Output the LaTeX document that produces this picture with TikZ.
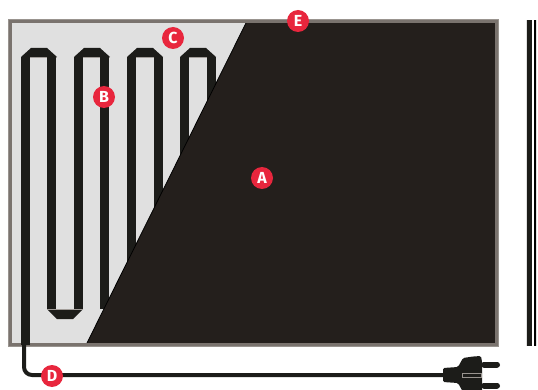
\documentclass[tikz,border=0pt]{standalone}
\usepackage{fontspec}
\setsansfont{Fira Sans}
\usepackage{xcolor}
\usepackage{tikz}
\usetikzlibrary{positioning}
\definecolor{framegray}{rgb}{0.48, 0.45, 0.43}
\definecolor{frameedge}{rgb}{0.60, 0.58, 0.56}
\definecolor{panelgray}{rgb}{0.88, 0.88, 0.88}
\definecolor{coverdark}{rgb}{0.14, 0.12, 0.11}
\definecolor{wireblack}{rgb}{0.11, 0.11, 0.10}
\definecolor{markerred}{rgb}{0.91, 0.15, 0.24}

\begin{document}
\begin{tikzpicture}[
    x=1pt, y=-1pt,
    every node/.style={font=\fontsize{16}{16}\selectfont\sffamily\bfseries, align=center},
    marker/.style={circle, fill=markerred, text=white, inner sep=0pt, minimum size=22pt},
    leg/.style={fill=wireblack, draw=none},
    seam/.style={draw=framegray!70, line width=0.6pt},
    cable/.style={draw=wireblack, line width=4pt, line cap=round}
]
\useasboundingbox (0,0) rectangle (538,390);

% ========== PANEL ==========
\fill[panelgray] (12,23) rectangle (496,343);

% ========== HEATING WIRE ==========
% upper bends and legs
\foreach \xa in {21,74,127,180} {
    \fill[leg] (\xa,57) -- ++(10,-9) -- ++(16,0) -- ++(10,9) -- cycle;
    \draw[seam] (\xa,57) -- ++(36,0);
}
\foreach \xa in {47,74,100,127,154,180,207} {
    \fill[leg] (\xa,57) rectangle ++(9,252);
}
\fill[leg] (21,57) rectangle (30,345);
% lower bend
\fill[leg] (47,309) -- ++(36,0) -- ++(-10,10) -- ++(-16,0) -- cycle;
\draw[seam] (47,309) -- ++(36,0);

% ========== COVER ==========
\fill[coverdark] (246,23) -- (496,23) -- (496,343) -- (87,343) -- cycle;
\draw[black, line width=0.8pt] (246,23) -- (87,343);

% ========== FRAME ==========
\draw[frameedge, line width=4pt] (10,21) rectangle (497,345);
\draw[framegray, line width=2.6pt] (10.7,21.7) rectangle (496.3,344.3);
\fill[leg] (21,341) rectangle (30,345);

% ========== SIDE VIEW ==========
\fill[panelgray] (526,20) rectangle (537,346);
\fill[wireblack] (527,20) rectangle (532,346);
\fill[white] (532,20) rectangle (534,346);
\fill[black] (534,20) rectangle (536,346);

% ========== CABLE AND PLUG ==========
\draw[cable, rounded corners=8pt] (24,345) -- (24,375) -- (445,375);
\draw[cable, line width=6pt] (484,364.5) -- (497,364.5);
\draw[cable, line width=6pt] (484,385.5) -- (497,385.5);
\fill[wireblack, rounded corners=1.5pt] (443,368) -- (458,367) -- (463,358) -- (473,356.5) -- (481,356) -- (482,362)
    -- (482,392) -- (463,392) -- (458,383) -- (443,382) -- cycle;
\draw[frameedge, line width=0.8pt] (462,373) rectangle (481,377);

% ========== MARKERS ==========
\node[marker] (markerA) at (262,178) {A};
\node[marker] (markerB) at (104,97)  {B};
\node[marker] (markerC) at (173,38)  {C};
\node[marker] (markerD) at (52,376)  {D};
\node[marker] (markerE) at (298,21)  {E};

\end{tikzpicture}
\end{document}
